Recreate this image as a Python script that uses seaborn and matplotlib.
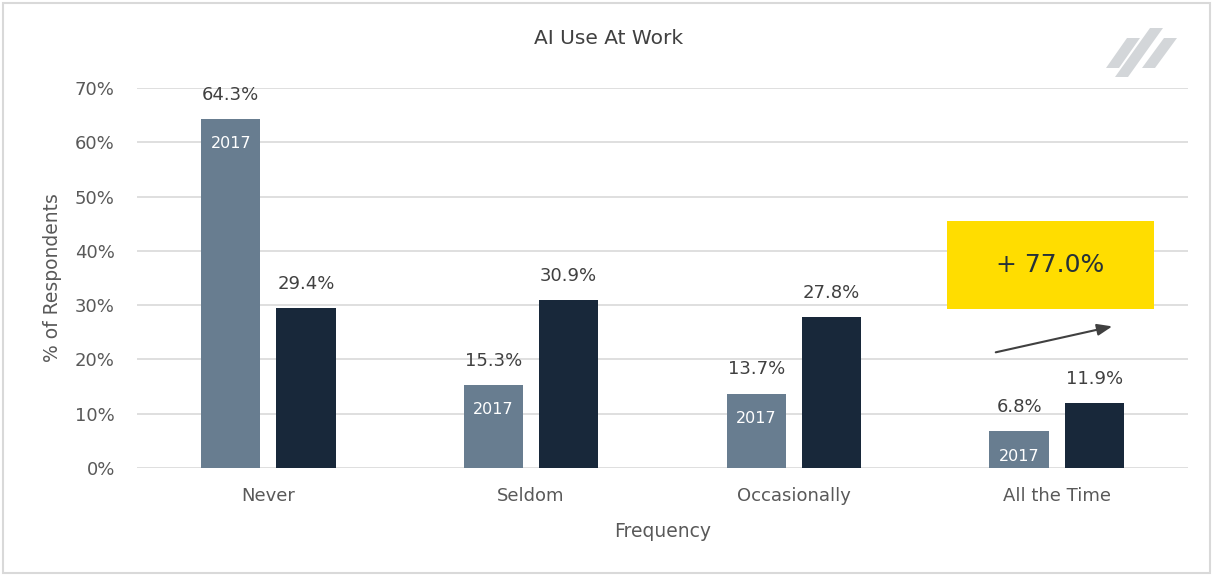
import pandas as pd
import matplotlib.pyplot as plt
import seaborn as sns
from matplotlib.patches import Rectangle, Polygon
from matplotlib.ticker import FuncFormatter

# Data
categories = ['Never', 'Seldom', 'Occasionally', 'All the Time']
years = ['2017', '2018']
values_2017 = [64.3, 15.3, 13.7, 6.8]
values_2018 = [29.4, 30.9, 27.8, 11.9]
callout_text = '+ 77.0%'

df = pd.DataFrame({
    'Frequency': categories * 2,
    'pct': values_2017 + values_2018,
    'year': [years[0]] * 4 + [years[1]] * 4,
})

sns.set_style('white')
plt.rcParams['font.family'] = ['DejaVu Sans']

fig = plt.figure(figsize=(12.15, 5.76), dpi=100)
ax = fig.add_axes([137 / 1215, 1 - 468 / 576, (1188 - 137) / 1215, (468 - 88) / 576])

sns.barplot(data=df, x='Frequency', y='pct', hue='year', ax=ax,
            palette=['#687D90', '#18283A'], saturation=1,
            width=0.571, gap=0.21, legend=False, linewidth=0)

ax.set_xlim(-0.5, 3.5)
ax.set_ylim(0, 70)
ax.set_yticks(range(0, 71, 10))
ax.yaxis.set_major_formatter(FuncFormatter(lambda v, p: f'{v:.0f}%'))
ax.grid(axis='y', color='#D9D9D9', linewidth=1.2)
ax.set_axisbelow(True)
for s in ax.spines.values():
    s.set_visible(False)
ax.tick_params(axis='both', length=0, labelsize=13, labelcolor='#595959')
ax.tick_params(axis='y', pad=16)
ax.tick_params(axis='x', pad=14)
ax.set_xlabel('Frequency', fontsize=13.5, color='#595959', labelpad=12)
ax.set_ylabel('% of Respondents', fontsize=13.5, color='#595959', labelpad=9)

# value labels
for cont in ax.containers:
    ax.bar_label(cont, labels=[f'{b.get_height():.1f}%' for b in cont],
                 padding=11, fontsize=13, color='#404040')

# "2017" inside the lighter bars
for b in ax.containers[0]:
    ax.annotate(years[0], (b.get_x() + b.get_width() / 2, b.get_height()),
                xytext=(0, -18), textcoords='offset points',
                ha='center', va='center', fontsize=11.5, color='white')

# callout box and arrow
ax.add_patch(Rectangle((2.583, 29.3), 0.788, 16.2, facecolor='#FFDD00',
                       edgecolor='none', zorder=3))
ax.text(2.977, 37.4, callout_text, ha='center', va='center', fontsize=18,
        color='#263238', zorder=4)
ax.annotate('', xy=(3.222, 26.2), xytext=(2.758, 21.2),
            arrowprops=dict(arrowstyle='-|>,head_length=0.9,head_width=0.35',
                            color='#404040', lw=1.5))

fig.text(609 / 1215, 1 - 38 / 576, 'AI Use At Work', ha='center', va='center',
         fontsize=14.5, color='#404040')

# logo
def px(x, y):
    return (x / 1215, 1 - y / 576)

logo_color = '#D3D6D9'
for pts in [[(1106, 68), (1119, 68), (1140, 38), (1127, 38)],
            [(1115, 77), (1128, 77), (1163, 28), (1150, 28)],
            [(1142, 68), (1155, 68), (1177, 38), (1164, 38)]]:
    fig.patches.append(Polygon([px(*p) for p in pts], closed=True,
                               facecolor=logo_color, edgecolor='none',
                               transform=fig.transFigure))

# border
fig.patches.append(Rectangle((3 / 1215, 3 / 576), 1207 / 1215, 570 / 576,
                             fill=False, edgecolor='#D9D9D9', linewidth=1.5,
                             transform=fig.transFigure))

fig.savefig('out.png', dpi=100)
